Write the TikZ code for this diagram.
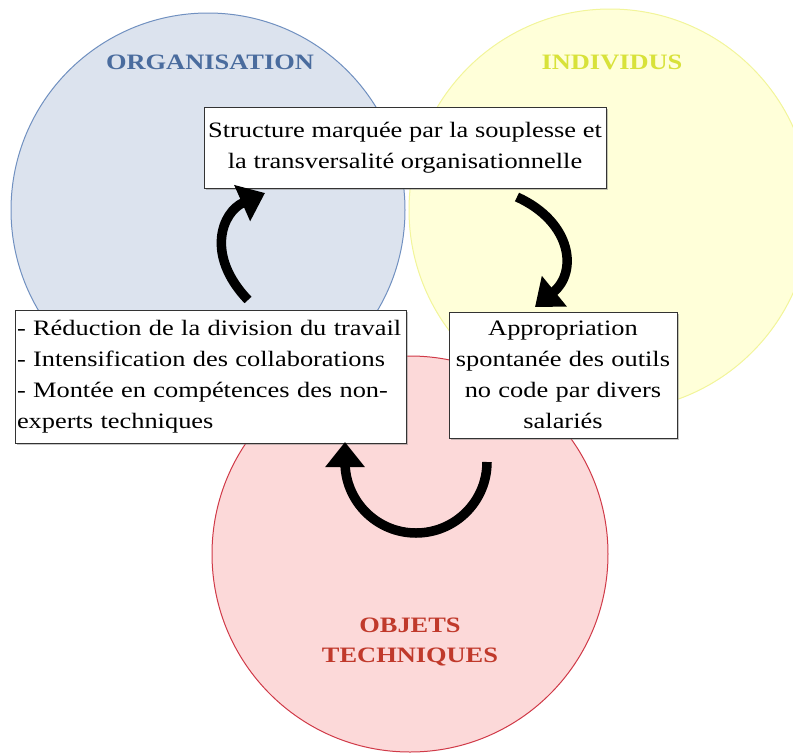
\documentclass[tikz,border=0pt]{standalone}
\usepackage{fontspec}
\setmainfont{Liberation Serif}[FakeStretch=1.2]
\usetikzlibrary{arrows.meta,shadows}
\definecolor{orgfill}{HTML}{DCE3EE}
\definecolor{orgline}{HTML}{7090C0}
\definecolor{orgtext}{HTML}{4A6C9E}
\definecolor{indfill}{HTML}{FFFFD9}
\definecolor{indline}{HTML}{F2F59A}
\definecolor{indtext}{HTML}{D8E23A}
\definecolor{objfill}{HTML}{FCD9D9}
\definecolor{objline}{HTML}{D03A48}
\definecolor{objtext}{HTML}{C0392B}
\tikzset{
  txtbox/.style={draw=black!80, line width=1pt, fill=white, inner sep=0pt,
    drop shadow={shadow xshift=1.5pt, shadow yshift=-1.5pt, opacity=0.45},
    font=\fontsize{22}{31}\selectfont},
  cyclearrow/.style={line width=9.5pt, -{Triangle[length=25pt,width=38pt]}},
  title/.style={font=\fontsize{22}{26}\selectfont\bfseries, align=center}
}
\begin{document}
\begin{tikzpicture}[x=1pt,y=1pt]
\useasboundingbox (0,0) rectangle (793,-753);
% circles
\fill[indfill] (610,-210) circle (201);
\draw[indline, line width=1pt] (610,-210) circle (201);
\fill[orgfill] (208,-210) circle (197);
\draw[orgline, line width=1pt] (208,-210) circle (197);
\fill[objfill] (410,-554) circle (198);
\draw[objline, line width=1pt] (410,-554) circle (198);
% titles
\node[title, text=orgtext] (torg) at (210,-62) {ORGANISATION};
\node[title, text=indtext] (tind) at (612,-62) {INDIVIDUS};
\node[title, text=objtext, font=\fontsize{22}{30}\selectfont\bfseries] (tobj) at (410,-642) {OBJETS\\TECHNIQUES};
% boxes
\node[txtbox, minimum width=402pt, minimum height=81pt, align=center] (top) at (405,-147.5)
  {Structure marquée par la souplesse et\\la transversalité organisationnelle};
\node[txtbox, text width=387pt, inner xsep=2pt, minimum height=133pt, align=left] (left) at (210.5,-376.5)
  {- Réduction de la division du travail\\- Intensification des collaborations\\- Montée en compétences des non-\\experts techniques};
\node[txtbox, text width=224pt, inner xsep=2pt, minimum height=126pt, align=center] (right) at (563,-375)
  {Appropriation\\spontanée des outils\\no code par divers\\salariés};
% arrows
\coordinate (a1s) at (248,-300);
\coordinate (a1e) at (265,-193);
\coordinate (a2s) at (517,-197);
\coordinate (a2e) at (535,-307);
\coordinate (a3s) at (487,-462);
\coordinate (a3e) at (345,-442);
\draw[cyclearrow] (a1s) .. controls (205,-255) and (222,-212) .. (a1e);
\draw[cyclearrow] (a2s) .. controls (572,-222) and (578,-272) .. (a2e);
\draw[cyclearrow] (a3s) arc[start angle=0, end angle=-180, radius=71] -- (a3e);
\end{tikzpicture}
\end{document}
